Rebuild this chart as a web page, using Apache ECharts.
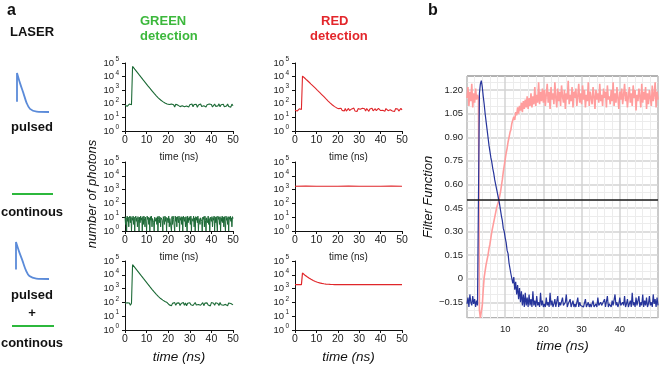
<!DOCTYPE html>
<html><head><meta charset="utf-8">
<script src="https://cdn.jsdelivr.net/npm/echarts@6/dist/echarts.min.js"></script>
<style>html,body{margin:0;padding:0;background:#fff}#c{width:660px;height:365px}</style>
</head><body><div id="c"></div><script>
// ---------------- DATA (panel a, sampled every 0.5 ns from 0 to 50 ns) ----------------
const stepA = 0.5;
const greenPulsed = [78,92,65,88,96,70,84, 56000,
  44000,35000,27500,22000,17500,13800,11000,8700,6900,5500,4400,3500,2800,2200,1750,1400,1120,900,720,580,470,390,320,265,225,190,165,145,128,115,105,97,90,
  88,64,95,70,84,58,92,66,80,97, 62,86,72,99,60,83,68,94,57,85, 74,96,61,88,69,91,56,82,77,98,
  63,87,71,93,59,84,67,96,73,90, 58,81,95,65,89,70,99,61,86,75, 92,60,83,68,97,64,88,57,94,72];
const redPulsed = [34,40,29,37,43,31,38, 11000,
  9300,7900,6600,5600,4700,4000,3350,2800,2350,1980,1660,1400,1170,980,820,690,580,480,400,335,280,230,190,160,132,112,95,82,72,62,55,50,46,
  44,36,47,33,41,30,45,29,38,46, 32,28,42,35,48,30,39,27,44,33, 40,29,47,34,43,30,45,36,28,41,
  35,48,30,38,44,31,27,46,36,32, 43,33,41,28,45,35,31,42,37,47, 30,40,27,44,33,41,29,36,46,35];
const stepCont = 0.25;
const greenContinuous = [11,3,9,1,12,5,10,2,8,12, 4,11,1,9,6,12,3,10,1,8, 12,5,9,2,11,7,1,10,4,12,
  6,9,1,11,3,12,8,2,10,5, 1,12,7,10,3,9,1,11,6,12, 2,8,11,4,1,10,12,5,9,3,
  11,1,7,12,4,10,2,9,12,6, 1,11,8,3,12,5,10,1,9,11, 4,12,2,8,10,6,1,11,3,12,
  7,9,1,12,5,10,2,11,8,4, 12,1,9,6,11,3,10,1,12,7, 5,10,2,11,8,1,12,4,9,6,
  11,3,12,1,8,10,5,12,2,9, 1,11,6,10,4,12,1,8,11,3, 9,12,5,1,10,7,11,2,12,6,
  1,9,11,4,12,3,8,1,10,12, 5,11,2,9,6,12,1,10,4,11, 8,1,12,7,10,3,11,1,9,5,
  12,4,10,2,11,8,1,12,6,9, 3,11,1,10,7,12,5,9,2,11, 8];
const redContinuousTime = [0,5,10,15,20,25,30,35,40,45,50];
const redContinuous = [1750,1760,1745,1755,1750,1762,1748,1755,1752,1758,1750];
const greenBoth = [86,70,95,74,90,62,88, 54000,
  43000,34500,27000,21800,17300,13700,10900,8600,6850,5450,4350,3480,2780,2190,1740,1390,1110,890,715,575,468,388,318,264,224,190,166,146,129,116,106,98,91,
  66,90,58,85,72,97,61,88,76,93, 59,84,70,98,63,91,57,86,74,95, 68,89,60,83,99,65,87,71,94,62,
  82,96,58,89,73,92,64,85,56,97, 70,88,61,93,75,84,59,98,67,90, 63,86,72,95,57,91,69,83,99,66];
const redBoth = [1950,1965,1940,1960,1955,1970,1950, 13500,
  11150,9800,8500,7500,6600,5900,5250,4700,4250,3880,3560,3300,3070,2880,2720,2590,2480,2380,2300,2235,2180,2130,2090,2060,2035,2015,2000,1990,1980,1970,1965,1960,1956,
  1950,1962,1945,1958,1940,1966,1952,1944,1960,1948, 1955,1942,1964,1950,1958,1946,1962,1940,1954,1960,
  1948,1956,1944,1965,1950,1958,1942,1960,1952,1946, 1963,1950,1955,1941,1960,1948,1957,1944,1962,1951,
  1946,1958,1950,1964,1943,1955,1961,1947,1953,1959, 1945,1957,1950,1962,1948,1954,1941,1960,1952,1956];

// ---------------- DATA (panel b, sampled every 0.25 ns from 0 to 50 ns) ----------------
const stepB = 0.25;
const pinkPre = [1.15,1.22,1.10,1.19,1.13,1.24,1.09,1.18,1.12,1.21,1.14,1.17,1.15];
const pinkRise = [-0.20,-0.25,-0.25,-0.17,-0.07,0.01,0.05,0.09,0.12,0.15,
  0.19,0.22,0.26,0.30,0.33,0.36,0.39,0.42,0.45,0.47,
  0.49,0.52,0.55,0.59,0.63,0.68,0.72,0.76,0.80,0.83,
  0.87,0.90,0.93,0.95,0.99,1.00,1.03,1.01,1.06,1.04,
  1.09,1.05,1.10,1.07,1.12,1.06,1.13,1.08,1.14,1.09,
  1.16,1.08,1.15,1.10,1.18,1.09,1.16,1.11,1.22,1.10,
  1.17,1.12,1.25,1.11,1.19,1.13,1.21,1.12];
const pinkLate = [1.20,1.10,1.17,1.24,1.12,1.19,1.08,1.22,1.14,1.18,
  1.11,1.25,1.15,1.09,1.21,1.13,1.19,1.10,1.23,1.16,
  1.12,1.20,1.08,1.18,1.14,1.26,1.11,1.17,1.13,1.22,
  1.09,1.19,1.15,1.21,1.10,1.16,1.24,1.12,1.18,1.11,
  1.23,1.14,1.20,1.09,1.17,1.13,1.25,1.10,1.19,1.15,
  1.11,1.22,1.16,1.08,1.20,1.14,1.18,1.12,1.24,1.13,
  1.17,1.10,1.21,1.15,1.19,1.09,1.23,1.14,1.16,1.11,
  1.20,1.13,1.25,1.10,1.18,1.12,1.22,1.15,1.08,1.19,
  1.14,1.21,1.11,1.17,1.24,1.13,1.19,1.09,1.16,1.22,
  1.12,1.18,1.10,1.23,1.15,1.20,1.07,1.17,1.13,1.21,
  1.16,1.09,1.24,1.12,1.19,1.14,1.22,1.08,1.18,1.11,
  1.20,1.15,1.10,1.23,1.13,1.17,1.25,1.09,1.19,1.14];
const bluePre = [-0.16,-0.12,-0.18,-0.10,-0.15,-0.17,-0.11,-0.16,-0.13,-0.18,-0.14,-0.17,-0.17];
const blueFall = [1.18,1.24,1.26,1.22,1.16,1.11,1.05,1.00,0.95,0.90,
  0.85,0.81,0.77,0.74,0.70,0.67,0.63,0.60,0.57,0.54,
  0.51,0.48,0.44,0.40,0.37,0.32,0.30,0.26,0.23,0.18,
  0.16,0.10,0.09,0.03,0.04,-0.03,0.01,-0.07,-0.02,-0.10,
  -0.04,-0.13,-0.06,-0.15,-0.08,-0.17,-0.10,-0.18,-0.09,-0.17,
  -0.12,-0.18,-0.10,-0.17,-0.13,-0.18,-0.08,-0.17,-0.14,-0.18,
  -0.11,-0.17,-0.15,-0.18,-0.09,-0.17,-0.14,-0.18];
const blueLate = [-0.16,-0.18,-0.12,-0.17,-0.15,-0.18,-0.09,-0.17,-0.14,-0.18,
  -0.16,-0.13,-0.18,-0.17,-0.11,-0.18,-0.15,-0.17,-0.18,-0.12,
  -0.17,-0.18,-0.15,-0.10,-0.18,-0.16,-0.17,-0.13,-0.18,-0.17,
  -0.14,-0.18,-0.16,-0.18,-0.17,-0.12,-0.18,-0.15,-0.17,-0.18,
  -0.16,-0.18,-0.17,-0.13,-0.18,-0.17,-0.15,-0.18,-0.16,-0.18,
  -0.17,-0.14,-0.18,-0.17,-0.16,-0.18,-0.12,-0.17,-0.18,-0.15,
  -0.17,-0.18,-0.16,-0.13,-0.18,-0.17,-0.11,-0.18,-0.16,-0.17,
  -0.18,-0.14,-0.17,-0.18,-0.10,-0.17,-0.15,-0.18,-0.16,-0.12,
  -0.17,-0.18,-0.15,-0.17,-0.11,-0.18,-0.16,-0.13,-0.18,-0.17,
  -0.14,-0.18,-0.09,-0.17,-0.15,-0.18,-0.12,-0.17,-0.16,-0.11,
  -0.18,-0.15,-0.17,-0.10,-0.18,-0.14,-0.17,-0.12,-0.18,-0.16,
  -0.11,-0.17,-0.15,-0.18,-0.10,-0.16,-0.13,-0.18,-0.12,-0.17];
const pinkFilter = pinkPre.concat(pinkRise, pinkLate);
const blueFilter = bluePre.concat(blueFall, blueLate);

// laser icons (normalized shape of the pulse)
const pulseX = [0, 0, 0.094, 0.198, 0.302, 0.406, 0.615, 1.0];
const pulseY = [0.26, 1, 0.74, 0.49, 0.23, 0.08, 0.01, 0];
const cwX = [0, 1];
const cwY = [0, 0];

// tick values
const decades = [1, 10, 100, 1000, 10000, 100000];
const filterTicks = [-0.15, 0, 0.15, 0.30, 0.45, 0.60, 0.75, 0.90, 1.05, 1.20];
const threshold = 0.5;

// ---------------- BUILD ----------------
const FONT = "'Liberation Sans', Arial, Helvetica, sans-serif";
const pairs = (vals, step) => vals.map((v, i) => [i * step, v]);
const zip = (xs, ys) => xs.map((x, i) => [x, ys[i]]);

const GREEN_TRACE = '#1c6a36', RED_TRACE = '#e0262a';
const grids = [
  {left:125, top:63, width:108, height:68},
  {left:295, top:63, width:107, height:68},
  {left:125, top:162, width:108, height:69},
  {left:295, top:162, width:107, height:69},
  {left:125, top:261, width:108, height:69},
  {left:295, top:261, width:107, height:69},
  {left:467, top:76, width:191, height:242, show:true, borderColor:'#666', borderWidth:1},
  {left:17, top:73, width:32, height:39},
  {left:16, top:242, width:33, height:37},
  {left:12, top:190, width:41, height:8},
  {left:12, top:322, width:42, height:8}
];
const xAxes = [], yAxes = [];
const mainY = [];
for (let i = 0; i < 6; i++) {
  const bottomRow = i >= 4;
  xAxes.push({gridIndex:i, type:'value', min:0, max:50, interval:10,
    axisLine:{show:true, onZero:false, lineStyle:{color:'#111', width:1}},
    axisTick:{show:true, length:3, lineStyle:{color:'#111'}},
    axisLabel:{fontSize:10.5, color:'#222', margin:4, fontFamily:FONT, hideOverlap:false},
    splitLine:{show:false},
    name:'time (ns)', nameLocation:'middle', nameGap: bottomRow ? 20 : 21,
    nameTextStyle: bottomRow ? {fontSize:13.5, fontStyle:'italic', color:'#111', fontFamily:FONT}
                             : {fontSize:10, color:'#222', fontFamily:FONT}
  });
  mainY.push(yAxes.length);
  yAxes.push({gridIndex:i, type:'log', logBase:10, min:1, max:100000,
    axisLine:{show:true, lineStyle:{color:'#111', width:1}},
    axisTick:{show:true, length:3, customValues:decades, lineStyle:{color:'#111'}},
    axisLabel:{customValues:decades, margin:11, fontSize:9.5, color:'#222', fontFamily:FONT, hideOverlap:false,
      formatter: () => '10'},
    splitLine:{show:false}, minorTick:{show:false}
  });
  // exponent labels (superscripts) on a twin axis
  yAxes.push({gridIndex:i, type:'log', logBase:10, min:1, max:100000, position:'left',
    axisLine:{show:false}, axisTick:{show:false, customValues:decades},
    axisLabel:{customValues:decades, margin:6, fontSize:6.5, lineHeight:7, color:'#222', fontFamily:FONT, hideOverlap:false,
      verticalAlign:'bottom', formatter: v => String(Math.round(Math.log10(v)))},
    splitLine:{show:false}, minorTick:{show:false}
  });
}
// panel b
xAxes.push({gridIndex:6, type:'value', min:0, max:50, interval:10,
  axisLine:{show:false}, axisTick:{show:false},
  axisLabel:{fontSize:9.5, color:'#222', margin:6, fontFamily:FONT, showMinLabel:false, showMaxLabel:false},
  splitLine:{show:true, lineStyle:{color:'#d3d3d3', width:1.5}},
  minorTick:{show:false, splitNumber:5},
  minorSplitLine:{show:true, lineStyle:{color:'#ececec', width:1}},
  name:'time (ns)', nameLocation:'middle', nameGap:19,
  nameTextStyle:{fontSize:13.5, fontStyle:'italic', color:'#111', fontFamily:FONT}
});
const minorY = [];
for (let k = -5; k <= 25; k++) { if (k % 3 !== 0) minorY.push(+(k * 0.05).toFixed(2)); }
const bY = yAxes.length;
yAxes.push({gridIndex:6, type:'value', min:-0.25, max:1.29,
  axisLine:{show:false}, axisTick:{show:false, customValues:filterTicks},
  axisLabel:{customValues:filterTicks, fontSize:9.5, color:'#222', margin:4, fontFamily:FONT, hideOverlap:false,
    formatter: v => Math.abs(v) < 1e-9 ? '0' : (v < 0 ? '\u2212' : '') + Math.abs(v).toFixed(2)},
  splitLine:{show:true, lineStyle:{color:'#d3d3d3', width:1.5}},
  name:'Filter Function', nameLocation:'middle', nameGap:23, nameRotate:90,
  nameTextStyle:{fontSize:13, fontStyle:'italic', color:'#111', fontFamily:FONT}
});
yAxes.push({gridIndex:6, type:'value', min:-0.25, max:1.29, position:'right',
  axisLine:{show:false}, axisTick:{show:false, customValues:minorY}, axisLabel:{show:false},
  splitLine:{show:true, lineStyle:{color:'#ececec', width:1}}
});
// icon grids
const iconY = [];
for (let g = 7; g <= 10; g++) {
  const cw = g >= 9;
  xAxes.push({gridIndex:g, type:'value', min:0, max:1, show:false});
  iconY.push(yAxes.length);
  yAxes.push({gridIndex:g, type:'value', min: cw ? -1 : 0, max:1, show:false});
}

const lineBase = {type:'line', showSymbol:false, symbol:'none', animation:false, sampling:null, silent:true};
const mk = (o) => Object.assign({}, lineBase, o);
const series = [
  mk({xAxisIndex:0, yAxisIndex:mainY[0], data:pairs(greenPulsed, stepA), lineStyle:{color:GREEN_TRACE, width:1.1}}),
  mk({xAxisIndex:1, yAxisIndex:mainY[1], data:pairs(redPulsed, stepA), lineStyle:{color:RED_TRACE, width:1.1}}),
  mk({xAxisIndex:2, yAxisIndex:mainY[2], data:pairs(greenContinuous, stepCont), lineStyle:{color:GREEN_TRACE, width:1}}),
  mk({xAxisIndex:3, yAxisIndex:mainY[3], data:zip(redContinuousTime, redContinuous), lineStyle:{color:RED_TRACE, width:1.2}}),
  mk({xAxisIndex:4, yAxisIndex:mainY[4], data:pairs(greenBoth, stepA), lineStyle:{color:GREEN_TRACE, width:1.1}}),
  mk({xAxisIndex:5, yAxisIndex:mainY[5], data:pairs(redBoth, stepA), lineStyle:{color:RED_TRACE, width:1.2}}),
  mk({xAxisIndex:6, yAxisIndex:bY, data:pairs(pinkFilter, stepB), lineStyle:{color:'#ff9d9d', width:1.6}, z:3}),
  mk({xAxisIndex:6, yAxisIndex:bY, data:pairs(blueFilter, stepB), lineStyle:{color:'#26349b', width:1.2}, z:4,
    markLine:{silent:true, symbol:['none','none'], label:{show:false}, animation:false,
      lineStyle:{color:'#1a1a1a', width:1.5, type:'solid'}, data:[{yAxis:threshold}]}}),
  mk({xAxisIndex:7, yAxisIndex:iconY[0], data:zip(pulseX, pulseY), smooth:0.3, lineStyle:{color:'#5b8bd9', width:1.8}}),
  mk({xAxisIndex:8, yAxisIndex:iconY[1], data:zip(pulseX, pulseY), smooth:0.3, lineStyle:{color:'#5b8bd9', width:1.8}}),
  mk({xAxisIndex:9, yAxisIndex:iconY[2], data:zip(cwX, cwY), lineStyle:{color:'#2cb83c', width:2}}),
  mk({xAxisIndex:10, yAxisIndex:iconY[3], data:zip(cwX, cwY), lineStyle:{color:'#2cb83c', width:2}})
];

const txt = (text, x, y, opts) => ({type:'text', x, y, silent:true, rotation: (opts && opts.rot) || 0,
  style:Object.assign({text, fill:'#111', font:'bold 13px ' + FONT, align:'left', verticalAlign:'middle',
    textAlign:'left', textVerticalAlign:'middle'}, (opts && opts.style) || {})});
const graphic = [
  txt('a', 7, 11, {style:{font:'bold 16px ' + FONT}}),
  txt('b', 428, 11, {style:{font:'bold 16px ' + FONT}}),
  txt('LASER', 10, 32),
  txt('GREEN', 140, 21, {style:{fill:'#3cb83c'}}),
  txt('detection', 140, 36, {style:{fill:'#3cb83c'}}),
  txt('RED', 321, 21, {style:{fill:'#e3262b'}}),
  txt('detection', 310, 36, {style:{fill:'#e3262b'}}),
  txt('pulsed', 32, 127, {style:{align:'center', textAlign:'center'}}),
  txt('continous', 32, 212, {style:{align:'center', textAlign:'center'}}),
  txt('pulsed', 32, 295, {style:{align:'center', textAlign:'center'}}),
  txt('+', 32, 313, {style:{align:'center', textAlign:'center'}}),
  txt('continous', 32, 343, {style:{align:'center', textAlign:'center'}}),
  txt('number of photons', 92, 194, {rot:Math.PI/2, style:{align:'center', textAlign:'center', font:'italic 13px ' + FONT}})
];

const chart = echarts.init(document.getElementById('c'), null, {renderer:'canvas'});
chart.setOption({animation:false, backgroundColor:'#fff', grid:grids, xAxis:xAxes, yAxis:yAxes, series, graphic});
</script></body></html>
